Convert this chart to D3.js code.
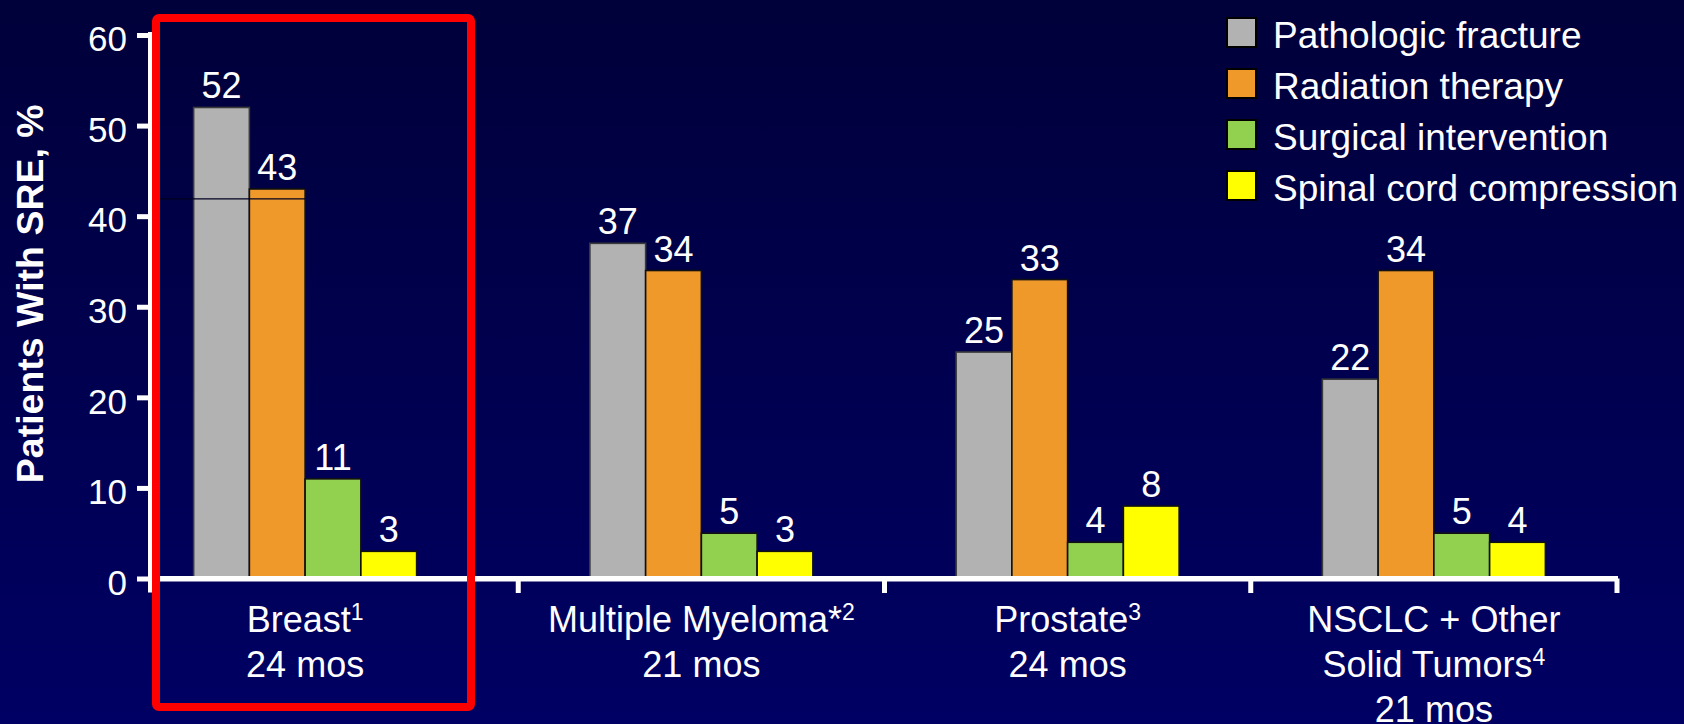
<!DOCTYPE html>
<html>
<head>
<meta charset="utf-8">
<script src="https://cdn.jsdelivr.net/npm/d3@7"></script>
<style>
  html, body { margin: 0; padding: 0; overflow: hidden; background: #000050; }
  svg { display: block; }
  text { font-family: "Liberation Sans", Arial, Helvetica, sans-serif; fill: #ffffff; }
</style>
</head>
<body>
<svg id="chart" width="1684" height="724"></svg>
<script>
// ---- data -------------------------------------------------------------
const categories = ["Breast", "Multiple Myeloma", "Prostate", "NSCLC + Other Solid Tumors"];
// label lines per category; "^" marks a superscript reference
const categoryLabels = [
  ["Breast^1", "24 mos"],
  ["Multiple Myeloma*^2", "21 mos"],
  ["Prostate^3", "24 mos"],
  ["NSCLC + Other", "Solid Tumors^4", "21 mos"]
];
const seriesNames = ["Pathologic fracture", "Radiation therapy", "Surgical intervention", "Spinal cord compression"];
const pathologicFracture    = [52, 37, 25, 22];
const radiationTherapy      = [43, 34, 33, 34];
const surgicalIntervention  = [11, 5, 4, 5];
const spinalCordCompression = [3, 3, 8, 4];
const yTicks = [0, 10, 20, 30, 40, 50, 60];
const yTitle = "Patients With SRE, %";

const seriesValues = [pathologicFracture, radiationTherapy, surgicalIntervention, spinalCordCompression];
const seriesColors = ["#b2b2b2", "#f0992b", "#92d050", "#ffff00"];
const seriesStroke = ["#3a3a3a", "#111111", "#111111", "#111111"];

// ---- layout -----------------------------------------------------------
const W = 1684, H = 724;
const svg = d3.select("#chart");

const defs = svg.append("defs");
const grad = defs.append("linearGradient").attr("id", "bg").attr("x1", 0).attr("y1", 0).attr("x2", 0).attr("y2", 1);
grad.append("stop").attr("offset", "0%").attr("stop-color", "#00003a");
grad.append("stop").attr("offset", "100%").attr("stop-color", "#000064");
svg.append("rect").attr("width", W).attr("height", H).attr("fill", "url(#bg)");

const y = d3.scaleLinear().domain([0, 60]).range([578.5, 35]);
const x0 = d3.scaleBand().domain(categories).range([152, 1617]);
const groupWidth = 223;
const x1 = d3.scaleBand().domain(seriesNames).range([-groupWidth / 2, groupWidth / 2]);
// the first cluster sits a little left of its band centre
const groupCenter = (c, i) => x0(c) + x0.bandwidth() / 2 + (i === 0 ? -30 : 0);

// ---- bars -------------------------------------------------------------
const rows = [];
categories.forEach((c, i) => {
  seriesNames.forEach((s, j) => {
    rows.push({ cat: c, ci: i, series: s, si: j, value: seriesValues[j][i] });
  });
});

const gBars = svg.append("g");
gBars.selectAll("rect").data(rows).join("rect")
  .attr("x", d => groupCenter(d.cat, d.ci) + x1(d.series))
  .attr("y", d => y(d.value))
  .attr("width", x1.bandwidth())
  .attr("height", d => y(0) - y(d.value))
  .attr("fill", d => seriesColors[d.si])
  .attr("stroke", d => seriesStroke[d.si])
  .attr("stroke-width", 1.6);

gBars.selectAll("text").data(rows).join("text")
  .attr("x", d => groupCenter(d.cat, d.ci) + x1(d.series) + x1.bandwidth() / 2)
  .attr("y", d => y(d.value) - 9)
  .attr("text-anchor", "middle")
  .attr("font-size", 36)
  .text(d => d.value);

// thin rule crossing the first cluster
svg.append("line")
  .attr("x1", 148).attr("x2", groupCenter(categories[0], 0))
  .attr("y1", y(41.9)).attr("y2", y(41.9))
  .attr("stroke", "#000020").attr("stroke-width", 1.2);

// ---- y axis -----------------------------------------------------------
const yAxis = svg.append("g").attr("transform", "translate(150,0)")
  .call(d3.axisLeft(y).tickValues(yTicks).tickSize(13).tickPadding(10).tickSizeOuter(0));
yAxis.select(".domain").remove();
yAxis.selectAll(".tick line").attr("stroke", "#ffffff").attr("stroke-width", 5);
yAxis.selectAll(".tick text")
  .attr("fill", "#ffffff")
  .attr("font-size", 35)
  .attr("font-family", "Liberation Sans, Arial, sans-serif")
  .attr("dy", "0.45em");
svg.append("line")
  .attr("x1", 150).attr("x2", 150)
  .attr("y1", y(60) - 3).attr("y2", y(0) + 14)
  .attr("stroke", "#ffffff").attr("stroke-width", 4);

svg.append("text")
  .attr("transform", `translate(43,${(y(0) + y(60)) / 2 - 13}) rotate(-90)`)
  .attr("text-anchor", "middle")
  .attr("font-size", 37.5)
  .attr("font-weight", "bold")
  .text(yTitle);

// ---- x axis -----------------------------------------------------------
svg.append("line")
  .attr("x1", 148).attr("x2", x0.range()[1] + 1)
  .attr("y1", y(0) + 0.3).attr("y2", y(0) + 0.3)
  .attr("stroke", "#ffffff").attr("stroke-width", 5.5);
svg.append("g").selectAll("line").data(categories).join("line")
  .attr("x1", c => x0(c) + x0.bandwidth())
  .attr("x2", c => x0(c) + x0.bandwidth())
  .attr("y1", y(0)).attr("y2", y(0) + 14.5)
  .attr("stroke", "#ffffff").attr("stroke-width", 5);

const gLabels = svg.append("g");
categories.forEach((c, i) => {
  categoryLabels[i].forEach((line, k) => {
    const t = gLabels.append("text")
      .attr("x", groupCenter(c, i))
      .attr("y", 632 + k * 44.8)
      .attr("text-anchor", "middle")
      .attr("font-size", 36);
    const parts = line.split("^");
    t.append("tspan").text(parts[0]);
    if (parts.length > 1) {
      t.append("tspan").attr("font-size", 23).attr("dy", -12).text(parts[1]);
    }
  });
});

// ---- highlight box around the first cluster ---------------------------
svg.append("rect")
  .attr("x", 156).attr("y", 18).attr("width", 315).attr("height", 689)
  .attr("rx", 3)
  .attr("fill", "none").attr("stroke", "#ff0000").attr("stroke-width", 8);

// ---- legend -----------------------------------------------------------
const legend = svg.append("g").attr("transform", "translate(1226,17)");
const li = legend.selectAll("g").data(seriesNames).join("g")
  .attr("transform", (d, i) => `translate(0,${i * 51})`);
li.append("rect")
  .attr("x", 1).attr("y", 1).attr("width", 29).attr("height", 29)
  .attr("fill", (d, i) => seriesColors[i])
  .attr("stroke", "#000000").attr("stroke-width", 2);
li.append("text")
  .attr("x", 47).attr("y", 31)
  .attr("font-size", 37)
  .text(d => d);
</script>
</body>
</html>
